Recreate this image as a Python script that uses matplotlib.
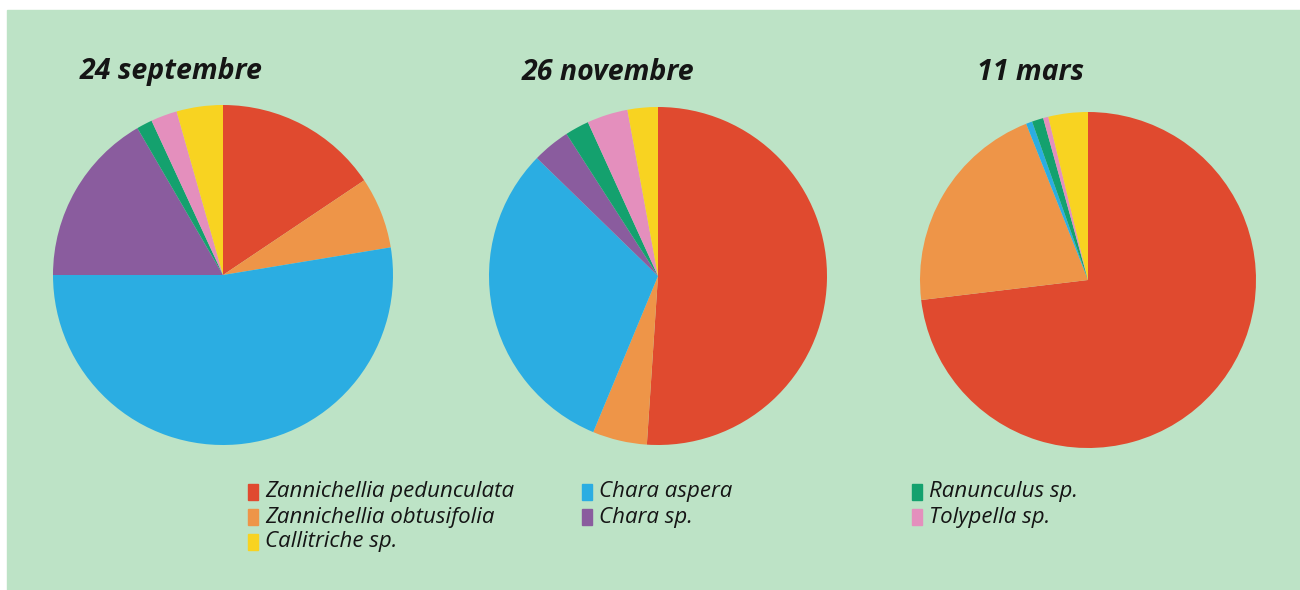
import matplotlib
matplotlib.use("Agg")
import matplotlib.pyplot as plt
from matplotlib.patches import Rectangle

species = ["Zannichellia pedunculata", "Zannichellia obtusifolia", "Chara aspera",
           "Chara sp.", "Ranunculus sp.", "Tolypella sp.", "Callitriche sp."]
colors = ["#e04a2f", "#ee9548", "#2badE2", "#8a5c9e", "#14a16e", "#e48fbd", "#f8d321"]
dates = ["24 septembre", "26 novembre", "11 mars"]
sept = [15.6, 6.8, 52.6, 16.6, 1.5, 2.5, 4.4]
nov = [51.0, 5.2, 31.0, 3.6, 2.3, 3.9, 2.9]
mars = [73.1, 20.9, 0.6, 0.0, 1.1, 0.5, 3.8]
series = [sept, nov, mars]

W, H = 1300, 590
fig = plt.figure(figsize=(W / 100, H / 100), dpi=100)
fig.patch.set_facecolor("white")
fig.patches.append(Rectangle((7 / W, 0), 1 - 7 / W, (H - 10) / H,
                             transform=fig.transFigure, color="#bde3c6", zorder=-10))

centers = [(223, 275, 170), (658, 276, 169), (1088, 280, 168)]
title_pos = [(80, 72), (522, 72), (977, 72)]
for (cx, cy, r), vals, d, (tx, ty) in zip(centers, series, dates, title_pos):
    ax = fig.add_axes([(cx - r) / W, (H - cy - r) / H, 2 * r / W, 2 * r / H])
    ax.pie(vals, colors=colors, startangle=90, counterclock=False,
           wedgeprops=dict(linewidth=0))
    ax.set_xlim(-1, 1)
    ax.set_ylim(-1, 1)
    ax.set_aspect("equal")
    ax.axis("off")
    ax.set_zorder(1)
    fig.text(tx / W, 1 - ty / H, d, fontsize=20.5, fontweight="bold", style="italic",
             family="Open Sans", color="#151515", va="center", ha="left")

legend_pos = [(248, 492), (248, 517), (582, 492), (582, 517), (912, 492), (912, 517), (248, 542)]
for (lx, ly), name, c in zip(legend_pos, species, colors):
    fig.patches.append(Rectangle((lx / W, 1 - (ly + 8) / H), 10 / W, 16 / H,
                                 transform=fig.transFigure, color=c, zorder=2))
    fig.text((lx + 17) / W, 1 - ly / H, name, fontsize=16, style="italic",
             family="Open Sans", color="#151515", va="center", ha="left")

fig.savefig("out.png", dpi=100)
